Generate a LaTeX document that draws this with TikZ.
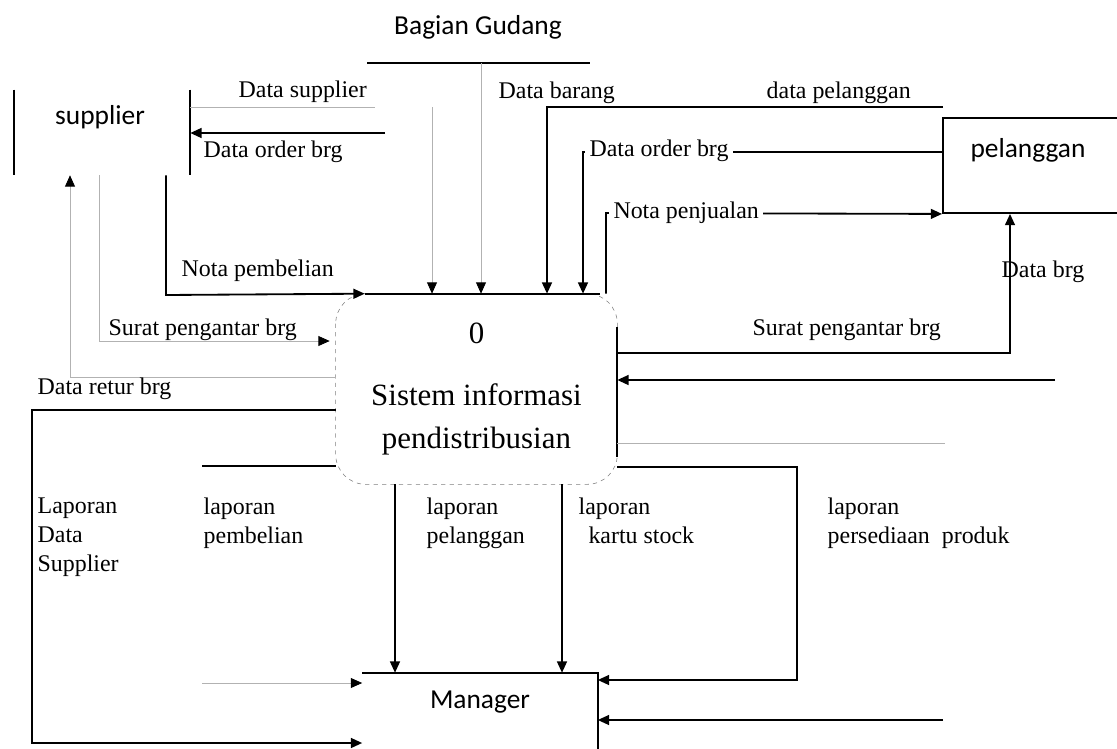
\documentclass[tikz,border=0pt]{standalone}
\usepackage{fontspec}
\setmainfont{Liberation Serif}
\newfontfamily\entfont{Carlito}
\usetikzlibrary{arrows.meta,calc}

\begin{document}
\begin{tikzpicture}[x=0.025cm,y=-0.025cm,
  bold/.style={line width=1.3pt},
  faint/.style={line width=0.6pt,gray!60},
  tip/.style={-{Triangle[length=8pt,width=7pt,black]}},
  lbl/.style={anchor=west,inner sep=1pt,align=left,font=\fontsize{17}{20.6}\selectfont},
  ent/.style={font=\entfont\fontsize{19.5}{23}\selectfont}]

\useasboundingbox (0,0) rectangle (1117,749);
\clip (0,0) rectangle (1117,749);

% terminators
\node[ent] (gud) at (478,27) {Bagian Gudang};
\coordinate (gudL) at (367,63);
\coordinate (gudR) at (590,63);
\draw[bold] (gudL) -- (gudR);

\node[minimum width=4.4cm,minimum height=2.125cm] (sup) at (102,132.5) {};
\node[ent] at (100,117) {supplier};
\draw[bold] (sup.north west) -- (sup.south west) (sup.north east) -- (sup.south east);

\node[draw,bold,minimum width=4.7cm,minimum height=2.375cm] (pel) at (1037,165.5) {};
\node[ent] at (1028,150) {pelanggan};

\node[ent,minimum width=5.875cm,minimum height=1.45cm] (mgr) at (480,702) {Manager};
\draw[bold] (mgr.north west) -- (mgr.north east) -- ++(0,100);

% process
\node[minimum width=7.025cm,minimum height=4.75cm,align=center,font=\fontsize{22}{30}\selectfont]
  (proc) at (476.5,389) {0\\[14pt]Sistem informasi\\pendistribusian};
\draw[dashed,gray,rounded corners=0.75cm] (proc.north west) rectangle (proc.south east);
\draw[bold] ($(proc.north west)+(29,0)$) -- ($(proc.north east)+(-17,0)$);
\draw[bold] ($(proc.north east)+(0,33)$) -- ($(proc.south east)+(0,-27)$);

% supplier side
\coordinate (dsupE) at (375,107);
\coordinate (dordE) at (385,133);
\draw[faint] (sup.east |- dsupE) -- (dsupE);
\draw[bold,tip] (dordE) -- (sup.east |- dordE);

\coordinate (npb) at (166,295);
\draw[bold,tip] (sup.south -| npb) -- (npb) -- ($(proc.north west)+(29,0)$);

\coordinate (spl) at (99,341);
\draw[faint,tip] (sup.south -| spl) -- (spl) -- ($(proc.west |- spl)+(-6,0)$);

\coordinate (dret) at (70,377);
\draw[faint,tip] (proc.west |- dret) -- (dret) -- (sup.south -| dret);

% Bagian Gudang
\coordinate (g1) at (432,107);
\coordinate (g2) at (481,63);
\draw[faint,tip] (g1) -- (g1 |- proc.north);
\draw[faint,tip] (g2) -- (g2 |- proc.north);

% pelanggan side
\coordinate (dbar1) at (943,107);
\coordinate (dbar2) at (547,107);
\draw[bold,tip] (dbar1) -- (dbar2) -- (dbar2 |- proc.north);

\coordinate (dor) at (583,152);
\draw[bold,tip] (pel.west |- dor) -- (dor) -- (dor |- proc.north);

\coordinate (npj) at (606,213);
\draw[bold,tip] (npj |- proc.north) -- (npj) -- (pel.south west);

\coordinate (dbrg) at (1010,353);
\draw[bold,tip] (proc.east |- dbrg) -- (dbrg) -- (pel.south -| dbrg);

\coordinate (pr2) at (1055,380);
\draw[bold,tip] (pr2) -- (proc.east |- pr2);
\coordinate (pr1) at (945,443);
\draw[faint] (proc.east |- pr1) -- (pr1);

% reports to manager
\coordinate (lds1) at (32,410);
\coordinate (lds2) at (32,743);
\draw[bold,tip] (proc.west |- lds1) -- (lds1) -- (lds2) -- (mgr.west |- lds2);

\coordinate (lpb1) at (202,466);
\coordinate (lpb2) at (202,683);
\draw[bold] (proc.west |- lpb1) -- (lpb1);
\draw[faint,tip] (lpb2) -- (mgr.west |- lpb2);

\coordinate (lpl) at (395,0);
\coordinate (lks) at (562,0);
\draw[bold,tip] (proc.south -| lpl) -- (mgr.north -| lpl);
\draw[bold,tip] (proc.south -| lks) -- (mgr.north -| lks);

\coordinate (lpp1) at (797,467);
\coordinate (lpp2) at (797,680);
\draw[bold,tip] (proc.east |- lpp1) -- (lpp1) -- (lpp2) -- (mgr.east |- lpp2);

\coordinate (mgrR) at (943,720);
\draw[bold,tip] (mgrR) -- (mgr.east |- mgrR);

% labels
\node[lbl] (lDsup) at (237,92) {Data supplier};
\node[lbl] (lDord) at (202,152) {Data order brg};
\node[lbl] (lDbar) at (497,93) {Data barang};
\node[lbl] (lDpel) at (765,93) {data pelanggan};
\node[lbl,fill=white,inner sep=3pt] (lDor) at (585,151) {Data order brg};
\node[lbl,fill=white,inner sep=3pt] (lNpj) at (609,213) {Nota penjualan};
\node[lbl] (lNpb) at (180,271) {Nota pembelian};
\node[lbl] (lSpl) at (107,330) {Surat pengantar brg};
\node[lbl] (lSpr) at (751,330) {Surat pengantar brg};
\node[lbl] (lDbrg) at (1000,272) {Data brg};
\node[lbl] (lDret) at (36,389) {Data retur brg};
\node[lbl,anchor=north west] (lLds) at (36,496) {Laporan\\Data\\Supplier};
\node[lbl,anchor=north west] (lLpb) at (202,496) {laporan\\pembelian};
\node[lbl,anchor=north west] (lLpl) at (425,496) {laporan\\pelanggan};
\node[lbl,anchor=north west] (lLks) at (577,496) {laporan\\\hspace*{7pt}kartu stock};
\node[lbl,anchor=north west] (lLpp) at (826,496) {laporan\\persediaan\ \ produk};
\end{tikzpicture}
\end{document}
